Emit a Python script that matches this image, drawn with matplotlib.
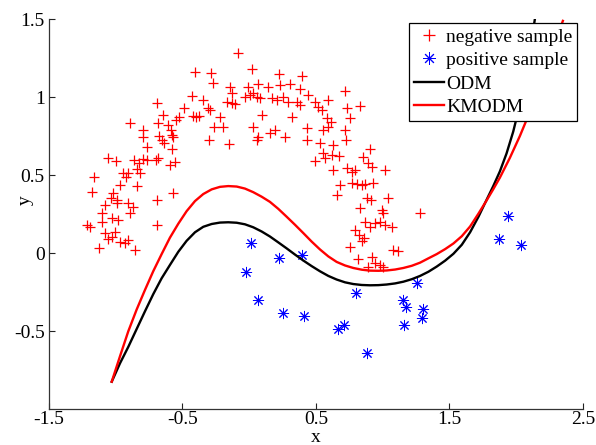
import matplotlib
matplotlib.use("Agg")
import matplotlib.pyplot as plt
from matplotlib.lines import Line2D

plt.rcParams["font.family"] = ["Liberation Serif", "DejaVu Serif"]
plt.rcParams["axes.unicode_minus"] = False

# negative samples (red '+')
neg_x = [
    -0.406, -0.289, -0.274, -0.144, -0.132, -0.431, -0.344, -0.169, -0.132, -0.107,
    -0.688, -0.489, -0.643, -0.524, -0.419, -0.399, -0.374, -0.306, -0.294, -0.219,
    -0.264, -0.194, -0.893, -0.793, -0.681, -0.606, -0.589, -0.549, -0.581, -0.569,
    -0.673, -0.656, -0.793, -0.763, -0.638, -0.581, -0.301, -0.149, -1.056, -0.998,
    -0.863, -0.826, -0.793, -0.763, -0.698, -0.681, -0.594, -0.556, -0.838, -0.818,
    -0.943, -0.923, -0.906, -1.163, -0.968, -0.843, -1.180, -1.023, -0.993, -1.038,
    -1.081, -1.105, -0.906, -0.873, -0.893, -0.988, -0.688, -0.569, -1.218, -1.193,
    -1.105, -1.031, -0.981, -1.081, -1.056, -1.031, -1.006, -0.968, -0.931, -0.906,
    -1.123, -0.856, -0.688,
    -0.082, 0.018, 0.225, 0.393, -0.007, 0.068, 0.031, 0.056, 0.143, 0.230,
    0.305, 0.380, -0.032, 0.006, 0.080, 0.168, 0.205, 0.255, 0.293, 0.355,
    0.380, 0.443, 0.493, 0.518, 0.543, 0.592, 0.717, 0.830, 0.730, 0.755,
    0.580, 0.610, 0.592, 0.093, 0.031, 0.318, 0.430, 0.555, 0.193, 0.155,
    0.268, 0.068, 0.056, 0.430, 0.530, 0.625, 0.717, 0.725, 0.550, 0.567,
    0.617, 0.675, 0.493, 0.630, 0.730, 0.767, 0.792, 0.849, 0.904, 0.892,
    0.917, 1.017, 0.680, 0.767, 0.805, 0.842, 0.867, 0.924, 0.655, 0.880,
    0.910, 1.042, 0.830, 0.992, 1.000, 1.279, 0.867, 0.904, 0.942, 0.979,
    1.017, 1.067, 0.792, 0.825, 0.842, 0.860, 0.755, 1.079, 1.117, 0.817,
    0.917, 0.942, 0.979, 1.005, 0.892,
]
neg_y = [
    1.164, 1.158, 1.089, 1.068, 1.030, 1.008, 0.983, 0.972, 0.961, 0.957,
    0.961, 0.929, 0.886, 0.871, 0.880, 0.871, 0.880, 0.929, 0.918, 0.871,
    0.807, 0.812, 0.837, 0.790, 0.837, 0.822, 0.790, 0.854, 0.758, 0.748,
    0.752, 0.726, 0.743, 0.683, 0.705, 0.669, 0.726, 0.700, 0.609, 0.594,
    0.598, 0.577, 0.602, 0.598, 0.598, 0.609, 0.566, 0.587, 0.538, 0.513,
    0.513, 0.491, 0.517, 0.491, 0.438, 0.431, 0.395, 0.384, 0.342, 0.352,
    0.310, 0.256, 0.320, 0.299, 0.260, 0.320, 0.342, 0.384, 0.181, 0.171,
    0.203, 0.224, 0.213, 0.128, 0.090, 0.107, 0.139, 0.075, 0.068, 0.085,
    0.032, 0.021, 0.181,
    1.286, 1.179, 1.149, 1.137, 1.068, 1.085, 1.025, 1.004, 1.068, 1.079,
    1.085, 1.051, 1.004, 1.015, 0.993, 0.993, 0.983, 1.004, 0.972, 0.972,
    0.951, 1.015, 0.972, 0.940, 0.918, 0.983, 1.042, 0.944, 0.929, 0.865,
    0.865, 0.844, 0.812, 0.886, 0.812, 0.876, 0.801, 0.790, 0.790, 0.769,
    0.748, 0.748, 0.726, 0.726, 0.705, 0.694, 0.790, 0.726, 0.641, 0.609,
    0.630, 0.624, 0.594, 0.534, 0.545, 0.523, 0.534, 0.619, 0.666, 0.577,
    0.555, 0.534, 0.438, 0.448, 0.444, 0.438, 0.444, 0.448, 0.374, 0.352,
    0.342, 0.352, 0.288, 0.277, 0.256, 0.260, 0.203, 0.171, 0.192, 0.203,
    0.181, 0.171, 0.149, 0.117, 0.081, 0.096, 0.042, 0.021, 0.017, -0.039,
    -0.022, -0.065, -0.075, -0.090, -0.090,
]

# positive samples (blue asterisks)
pos_x = [0.011, 0.220, 0.398, -0.024, 0.068, 0.250, 0.410, 0.667, 0.712, 0.800,
         0.885, 1.149, 1.174, 1.259, 1.159, 1.304, 1.291, 1.938, 1.871, 2.040]
pos_y = [0.068, -0.032, -0.011, -0.118, -0.299, -0.381, -0.402, -0.487, -0.460, -0.257,
         -0.641, -0.299, -0.346, -0.188, -0.460, -0.359, -0.413, 0.239, 0.089, 0.053]

# decision boundary of ODM
odm_x = [-1.030, -0.968, -0.906, -0.843, -0.781, -0.719, -0.656, -0.594, -0.531, -0.469,
         -0.406, -0.344, -0.281, -0.219, -0.157, -0.094, -0.032, 0.030, 0.093, 0.155,
         0.218, 0.280, 0.343, 0.405, 0.468, 0.530, 0.593, 0.655, 0.718, 0.780,
         0.843, 0.905, 0.968, 1.030, 1.093, 1.155, 1.218, 1.280, 1.343, 1.405,
         1.468, 1.530, 1.593, 1.655, 1.718, 1.778, 1.828, 1.878, 1.928, 1.978,
         2.030, 2.085, 2.140]
odm_y = [-0.823, -0.705, -0.600, -0.485, -0.372, -0.262, -0.160, -0.075, 0.010, 0.080,
         0.135, 0.170, 0.188, 0.197, 0.199, 0.196, 0.186, 0.167, 0.140, 0.108,
         0.070, 0.032, -0.008, -0.046, -0.082, -0.115, -0.145, -0.168, -0.186, -0.197,
         -0.203, -0.205, -0.204, -0.200, -0.193, -0.182, -0.166, -0.145, -0.118, -0.085,
         -0.047, -0.003, 0.055, 0.135, 0.235, 0.342, 0.430, 0.525, 0.640, 0.780,
         0.960, 1.200, 1.500]

# decision boundary of KMODM
kmodm_x = [-1.030, -0.968, -0.906, -0.843, -0.781, -0.719, -0.656, -0.594, -0.531, -0.469,
           -0.406, -0.344, -0.281, -0.219, -0.157, -0.094, -0.032, 0.030, 0.093, 0.155,
           0.218, 0.280, 0.343, 0.405, 0.468, 0.530, 0.593, 0.655, 0.718, 0.780,
           0.843, 0.905, 0.968, 1.030, 1.093, 1.155, 1.218, 1.280, 1.343, 1.405,
           1.468, 1.530, 1.593, 1.655, 1.718, 1.778, 1.828, 1.878, 1.953, 2.028,
           2.090, 2.160, 2.230, 2.300, 2.350]
kmodm_y = [-0.823, -0.660, -0.500, -0.360, -0.235, -0.115, -0.005, 0.100, 0.190, 0.270,
           0.335, 0.380, 0.410, 0.426, 0.431, 0.428, 0.415, 0.392, 0.363, 0.330,
           0.285, 0.235, 0.183, 0.130, 0.075, 0.025, -0.020, -0.055, -0.078, -0.094,
           -0.105, -0.111, -0.112, -0.110, -0.104, -0.094, -0.080, -0.060, -0.032, -0.005,
           0.027, 0.063, 0.110, 0.172, 0.255, 0.338, 0.410, 0.485, 0.612, 0.752,
           0.880, 1.040, 1.200, 1.370, 1.490]

x_ticks = [-1.5, -0.5, 0.5, 1.5, 2.5]
x_tick_labels = ["-1.5", "-0.5", "0.5", "1.5", "2.5"]
y_ticks = [-0.5, 0, 0.5, 1, 1.5]
y_tick_labels = ["-0.5", "0", "0.5", "1", "1.5"]

fig = plt.figure(figsize=(5.96, 4.45), dpi=100)
ax = fig.add_axes([0.0822, 0.0802, 0.8958, 0.8764])

ax.plot(neg_x, neg_y, linestyle="none", marker="+", color="red",
        markersize=7, markeredgewidth=0.9, zorder=2)
ax.plot(pos_x, pos_y, linestyle="none", marker=(8, 2, 0), color="blue",
        markersize=8, markeredgewidth=0.7, zorder=2)
ax.plot(odm_x, odm_y, color="black", linewidth=1.7, zorder=3,
        solid_joinstyle="round")
ax.plot(kmodm_x, kmodm_y, color="red", linewidth=1.7, zorder=3,
        solid_joinstyle="round")

ax.set_xlim(-1.5, 2.5)
ax.set_ylim(-1.0, 1.5)
ax.set_xticks(x_ticks)
ax.set_xticklabels(x_tick_labels)
ax.set_yticks(y_ticks)
ax.set_yticklabels(y_tick_labels)

for side in ("top", "right"):
    ax.spines[side].set_visible(False)
for side in ("left", "bottom"):
    ax.spines[side].set_color("#333333")
    ax.spines[side].set_linewidth(0.9)
ax.tick_params(direction="in", length=4, width=0.8, labelsize=14, pad=3,
               colors="#222222", labelcolor="black")
ax.tick_params(axis="x", pad=1.5)

ax.set_xlabel("x", fontsize=14)
ax.set_ylabel("y", fontsize=14)
ax.xaxis.set_label_coords(0.5, -0.05)
ax.yaxis.set_label_coords(-0.028, 0.537)

handles = [
    Line2D([], [], linestyle="none", marker="+", color="red", markersize=9, markeredgewidth=0.9),
    Line2D([], [], linestyle="none", marker=(8, 2, 0), color="blue", markersize=9, markeredgewidth=0.7),
    Line2D([], [], color="black", linewidth=1.7),
    Line2D([], [], color="red", linewidth=1.7),
]
labels = ["negative sample", "positive sample", "ODM", "KMODM"]
leg = ax.legend(handles, labels, loc="upper right", bbox_to_anchor=(0.989, 0.99),
                fontsize=14, frameon=True, fancybox=False, framealpha=1,
                edgecolor="black", handlelength=1.55, handletextpad=0.1,
                borderpad=0.25, labelspacing=0.3, borderaxespad=0)
leg.get_frame().set_linewidth(0.9)

fig.savefig("out.png", dpi=100, facecolor="white")
